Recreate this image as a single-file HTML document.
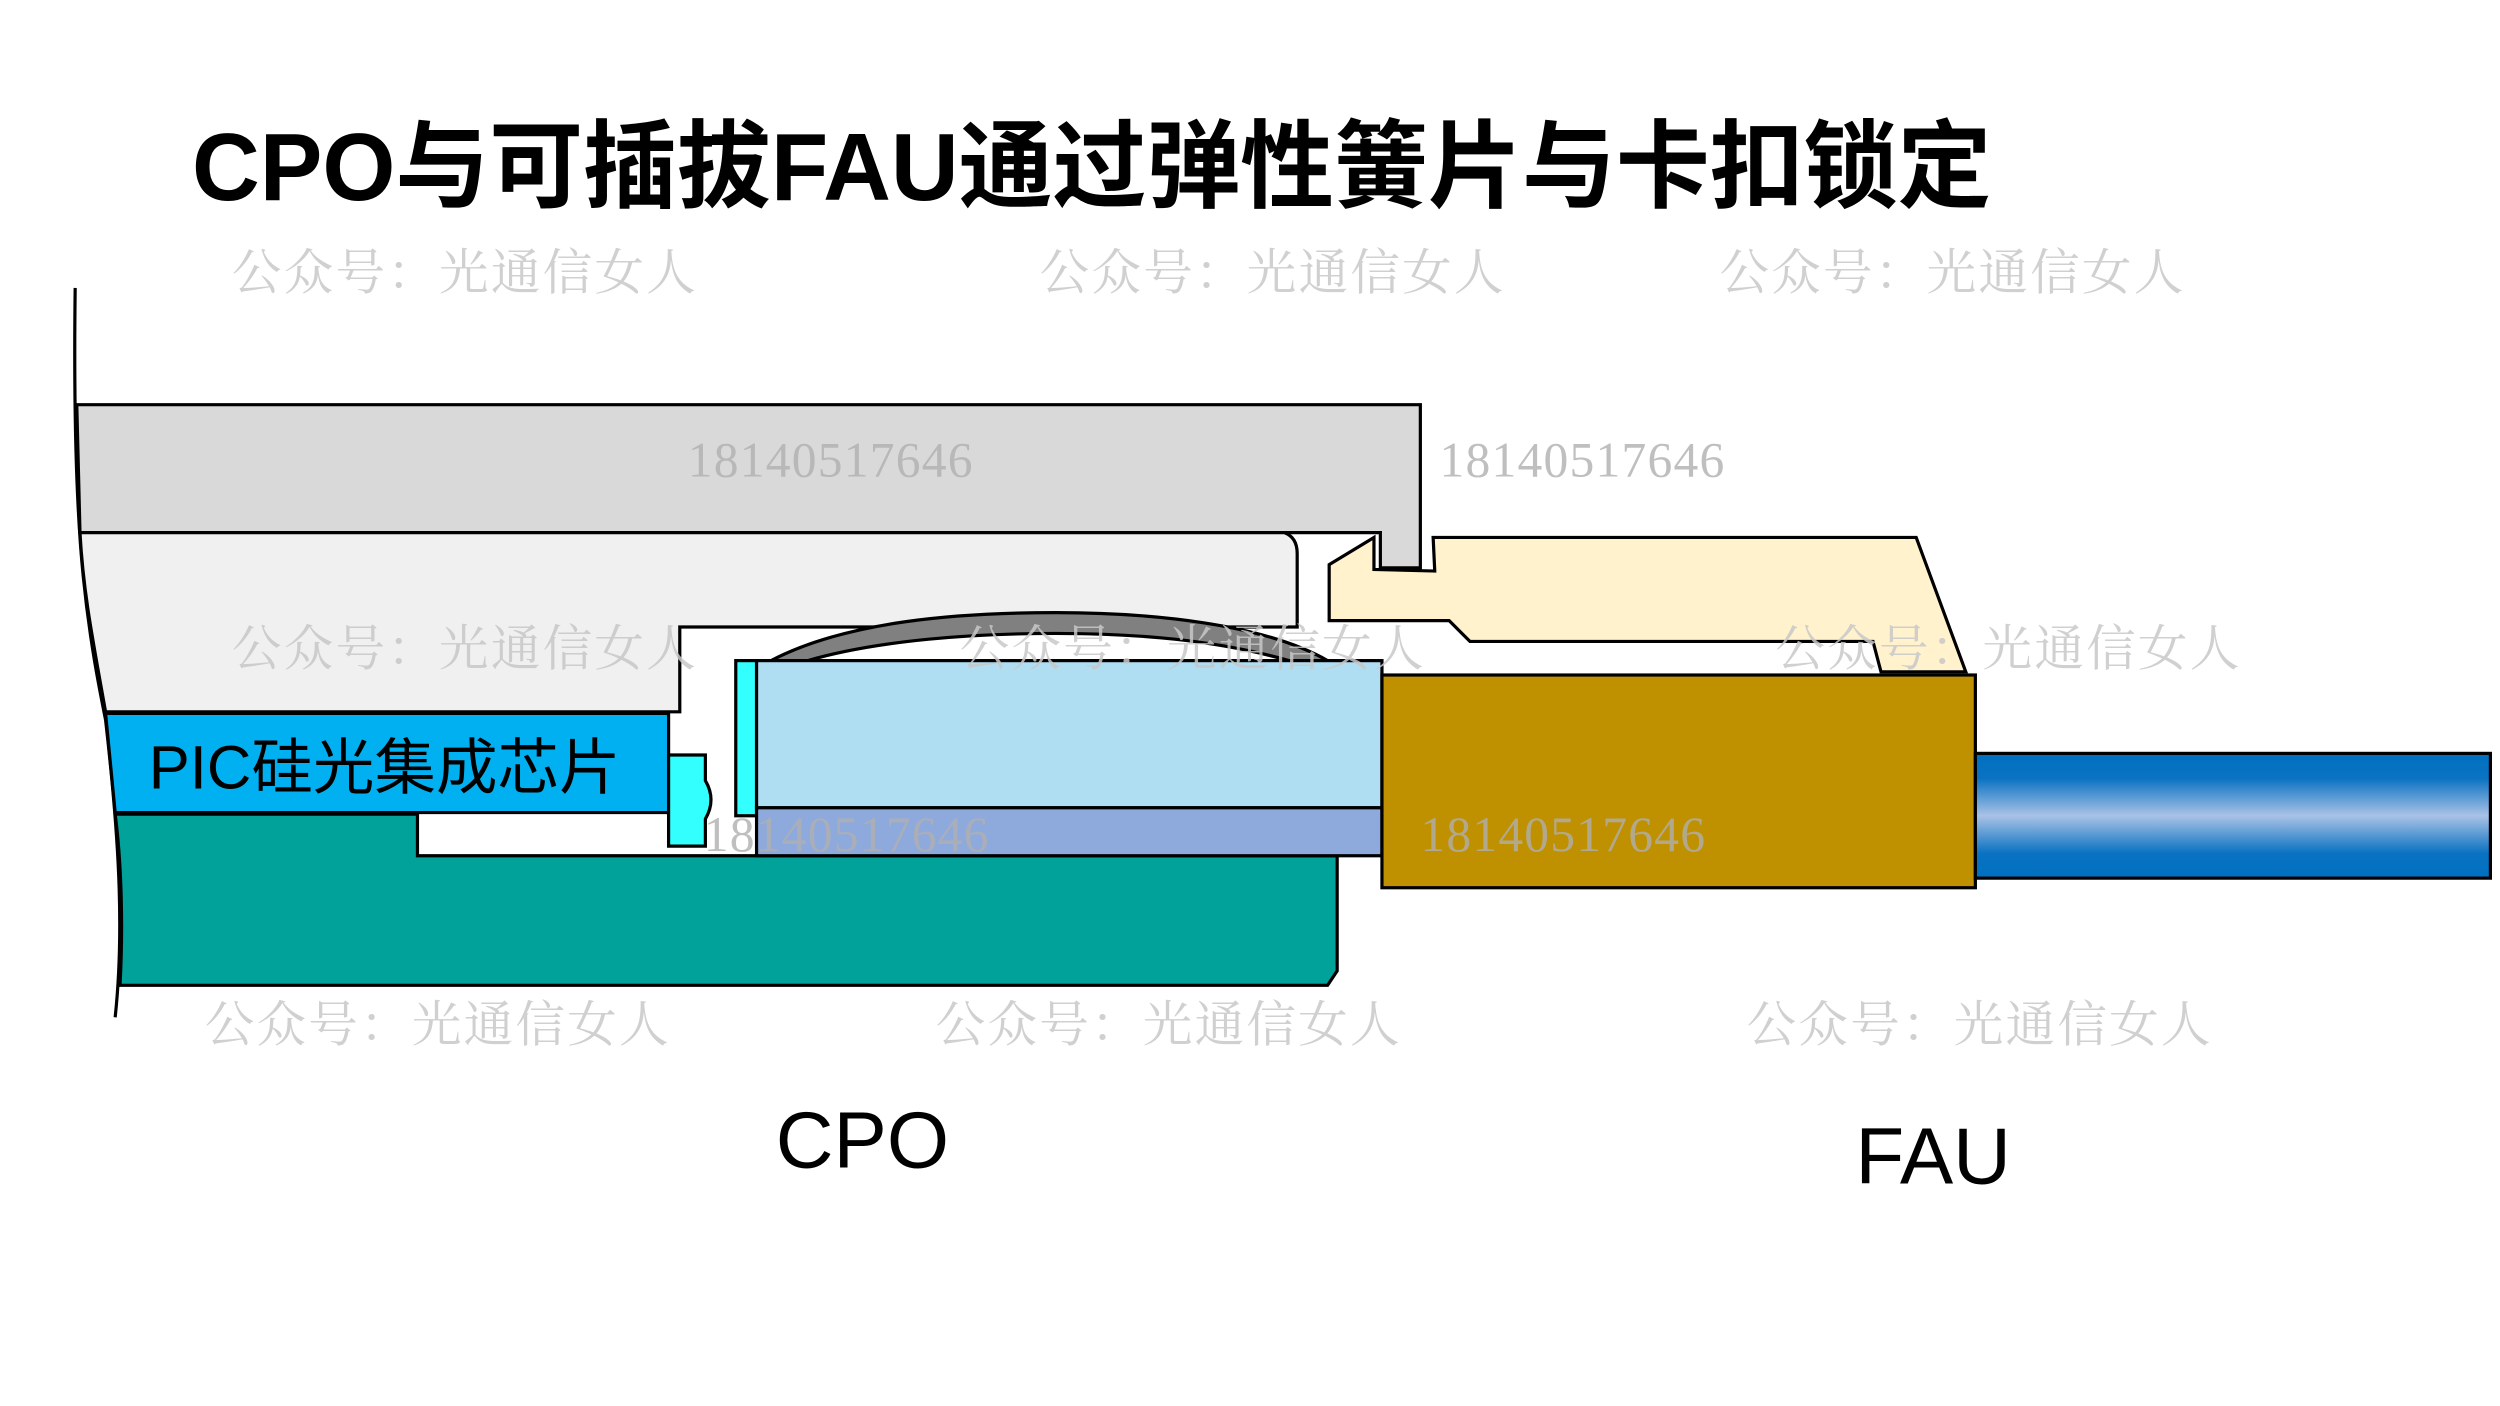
<!DOCTYPE html>
<html><head><meta charset="utf-8"><style>
html,body{margin:0;padding:0;background:#fff;width:2500px;height:1406px;overflow:hidden}
svg{display:block}
</style></head><body>
<svg width="2500" height="1406" viewBox="0 0 1563 879" xmlns="http://www.w3.org/2000/svg">
<defs>
<linearGradient id="cab" x1="0" y1="0" x2="0" y2="1">
<stop offset="0" stop-color="#0070c0"/><stop offset="0.2" stop-color="#0a72c2"/>
<stop offset="0.5" stop-color="#a9c2e6"/><stop offset="0.8" stop-color="#0a72c2"/><stop offset="1" stop-color="#0070c0"/>
</linearGradient>
</defs>
<text x="120" y="125" font-family="Liberation Sans, Noto Sans CJK SC, sans-serif" font-weight="bold" font-size="60" textLength="1125" lengthAdjust="spacingAndGlyphs">CPO与可插拔FAU通过弹性簧片与卡扣锁定</text>

<path d="M47,180 C46,260 48,320 52,360 C56,400 62,430 66,450 C74,520 78,580 72,636" fill="none" stroke="#000" stroke-width="2"/>
<path d="M48,253 L888,253 L888,355 L863,355 L863,333 L50,333 Z" fill="#d9d9d9" stroke="#000" stroke-width="2"/>
<path d="M50,333 L803,333 Q811,336 811,346 L811,392 L425,392 L425,445 L66,445 C58,400 52,370 50,333 Z" fill="#f0f0f0" stroke="#000" stroke-width="2"/>
<path d="M66,446 L418,446 L418,508 L72,508 Z" fill="#00b0f0" stroke="#000" stroke-width="2"/>
<text x="93" y="493" font-family="Liberation Sans, Noto Sans CJK SC, sans-serif" font-size="38" fill="#000" textLength="295" lengthAdjust="spacingAndGlyphs">PIC硅光集成芯片</text>
<path d="M72,509 L261,509 L261,535 L836,535 L836,607 L830,616 L75,616 C77,580 76,540 72,509 Z" fill="#00a29a" stroke="#000" stroke-width="2"/>
<path d="M418,472 L441,472 L441,488 Q448,500 441,512 L441,529 L418,529 Z" fill="#33ffff" stroke="#000" stroke-width="2"/>
<rect x="460" y="413" width="13" height="97" fill="#33ffff" stroke="#000" stroke-width="2"/>
<path d="M482,413 C530,388 600,383 660,383 C720,383 790,390 830,413 L806,413 C760,400 710,396 660,396 C610,396 550,400 505,413 Z" fill="#808080" stroke="#000" stroke-width="2"/>
<rect x="473" y="413" width="391" height="92" fill="#afdef2" stroke="#000" stroke-width="2"/>
<rect x="473" y="505" width="391" height="30" fill="#8eaadc" stroke="#000" stroke-width="2"/>
<path d="M831,353 L859,336 L859,356 L897,357 L896,336 L1198,336 L1229,420 L1176,420 L1171,401 L919,401 L906,388 L831,388 Z" fill="#fff2cc" stroke="#000" stroke-width="2"/>
<rect x="864" y="422" width="371" height="133" fill="#bf9000" stroke="#000" stroke-width="2"/>
<rect x="1235" y="471" width="322" height="78" fill="url(#cab)" stroke="#000" stroke-width="2"/>

<g font-family="Liberation Serif, Noto Serif CJK SC, serif" font-size="31" fill="#c8c8c8" opacity="0.85">
<text x="145" y="181" textLength="290">公众号：光通信女人</text>
<text x="650" y="181" textLength="290">公众号：光通信女人</text>
<text x="1075" y="181" textLength="290">公众号：光通信女人</text>
<text x="145" y="416" textLength="290">公众号：光通信女人</text>
<text x="600" y="416" textLength="290">公众号：光通信女人</text>
<text x="1110" y="416" textLength="290">公众号：光通信女人</text>
<text x="128" y="651" textLength="290">公众号：光通信女人</text>
<text x="585" y="651" textLength="290">公众号：光通信女人</text>
<text x="1092" y="651" textLength="290">公众号：光通信女人</text>
</g>
<g font-family="Liberation Serif, serif" font-size="31" fill="#b0b0b0" opacity="0.8">
<text x="430" y="298" textLength="178">18140517646</text>
<text x="900" y="298" textLength="178">18140517646</text>
<text x="440" y="532" textLength="178">18140517646</text>
<text x="888" y="532" textLength="178">18140517646</text>
</g>

<text x="485" y="730" font-family="Liberation Sans, sans-serif" font-size="50" fill="#000">CPO</text>
<text x="1160" y="740" font-family="Liberation Sans, sans-serif" font-size="50" fill="#000">FAU</text>
</svg>
</body></html>
